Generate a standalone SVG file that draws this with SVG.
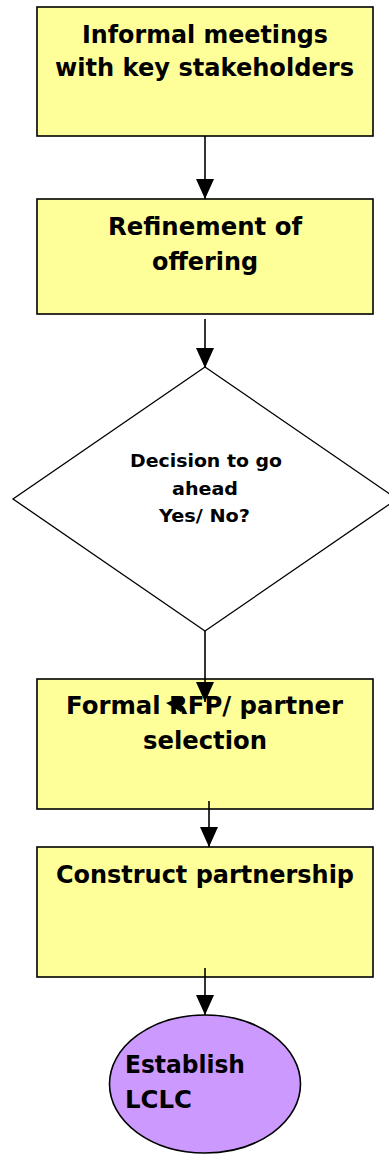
<svg xmlns="http://www.w3.org/2000/svg" width="389" height="1155" viewBox="0 0 389 1155">
<style>
.box{fill:#FFFF99;stroke:#000;stroke-width:1.6}
.dia{fill:#fff;stroke:#000;stroke-width:1.3}
.ell{fill:#CC99FF;stroke:#000;stroke-width:1.6}
.t{font-family:"DejaVu Sans","Verdana",sans-serif;font-weight:bold;fill:#000;text-anchor:middle}
.tb{font-size:24px}
.td{font-size:17.5px}
.te{font-size:24px;text-anchor:start}
.con{stroke:#000;stroke-width:1.6;fill:none;marker-end:url(#ah)}
</style>
<defs>
<marker id="ah" viewBox="0 0 20 18" refX="20" refY="9" markerWidth="20" markerHeight="18" markerUnits="userSpaceOnUse" orient="auto">
<path d="M0,0 L20,9 L0,18 z" fill="#000"/>
</marker>
</defs>
<rect width="389" height="1155" fill="#fff"/>
<g id="n1">
<rect class="box" x="37" y="7" width="336" height="129"/>
<text class="t tb" x="205" y="43" textLength="246" lengthAdjust="spacingAndGlyphs">Informal meetings</text>
<text class="t tb" x="204.5" y="76" textLength="299" lengthAdjust="spacingAndGlyphs">with key stakeholders</text>
</g>
<g id="n2">
<rect class="box" x="37" y="199" width="336" height="115"/>
<text class="t tb" x="205" y="235" textLength="194" lengthAdjust="spacingAndGlyphs">Refinement of</text>
<text class="t tb" x="205" y="270" textLength="106" lengthAdjust="spacingAndGlyphs">offering</text>
</g>
<g id="n3">
<polygon class="dia" points="205,367 397,499 205,631 13,499"/>
<text class="t td" x="206" y="467" textLength="152" lengthAdjust="spacingAndGlyphs">Decision to go</text>
<text class="t td" x="205" y="495" textLength="66" lengthAdjust="spacingAndGlyphs">ahead</text>
<text class="t td" x="204.5" y="522" textLength="91" lengthAdjust="spacingAndGlyphs">Yes/ No?</text>
</g>
<g id="n4">
<rect class="box" x="37" y="679" width="336" height="130"/>
<text class="t tb" x="204.5" y="714" textLength="277" lengthAdjust="spacingAndGlyphs">Formal RFP/ partner</text>
<text class="t tb" x="205" y="749" textLength="124" lengthAdjust="spacingAndGlyphs">selection</text>
</g>
<g id="n5">
<rect class="box" x="37" y="847" width="336" height="130"/>
<text class="t tb" x="205" y="883" textLength="298" lengthAdjust="spacingAndGlyphs">Construct partnership</text>
</g>
<g id="n6">
<ellipse class="ell" cx="205" cy="1084" rx="95.5" ry="69"/>
<text class="t te" x="125" y="1073" textLength="120" lengthAdjust="spacingAndGlyphs">Establish</text>
<text class="t te" x="125" y="1108" textLength="67" lengthAdjust="spacingAndGlyphs">LCLC</text>
</g>
<g id="connectors">
<line class="con" x1="205" y1="136" x2="205" y2="199"/>
<line class="con" x1="205" y1="319" x2="205" y2="368"/>
<line class="con" x1="205" y1="631" x2="205" y2="702"/>
<line class="con" x1="209" y1="801" x2="209" y2="847"/>
<line class="con" x1="205" y1="968" x2="205" y2="1015"/>
<polygon points="166,703 183,696 181,712" fill="#000"/>
</g>
</svg>
